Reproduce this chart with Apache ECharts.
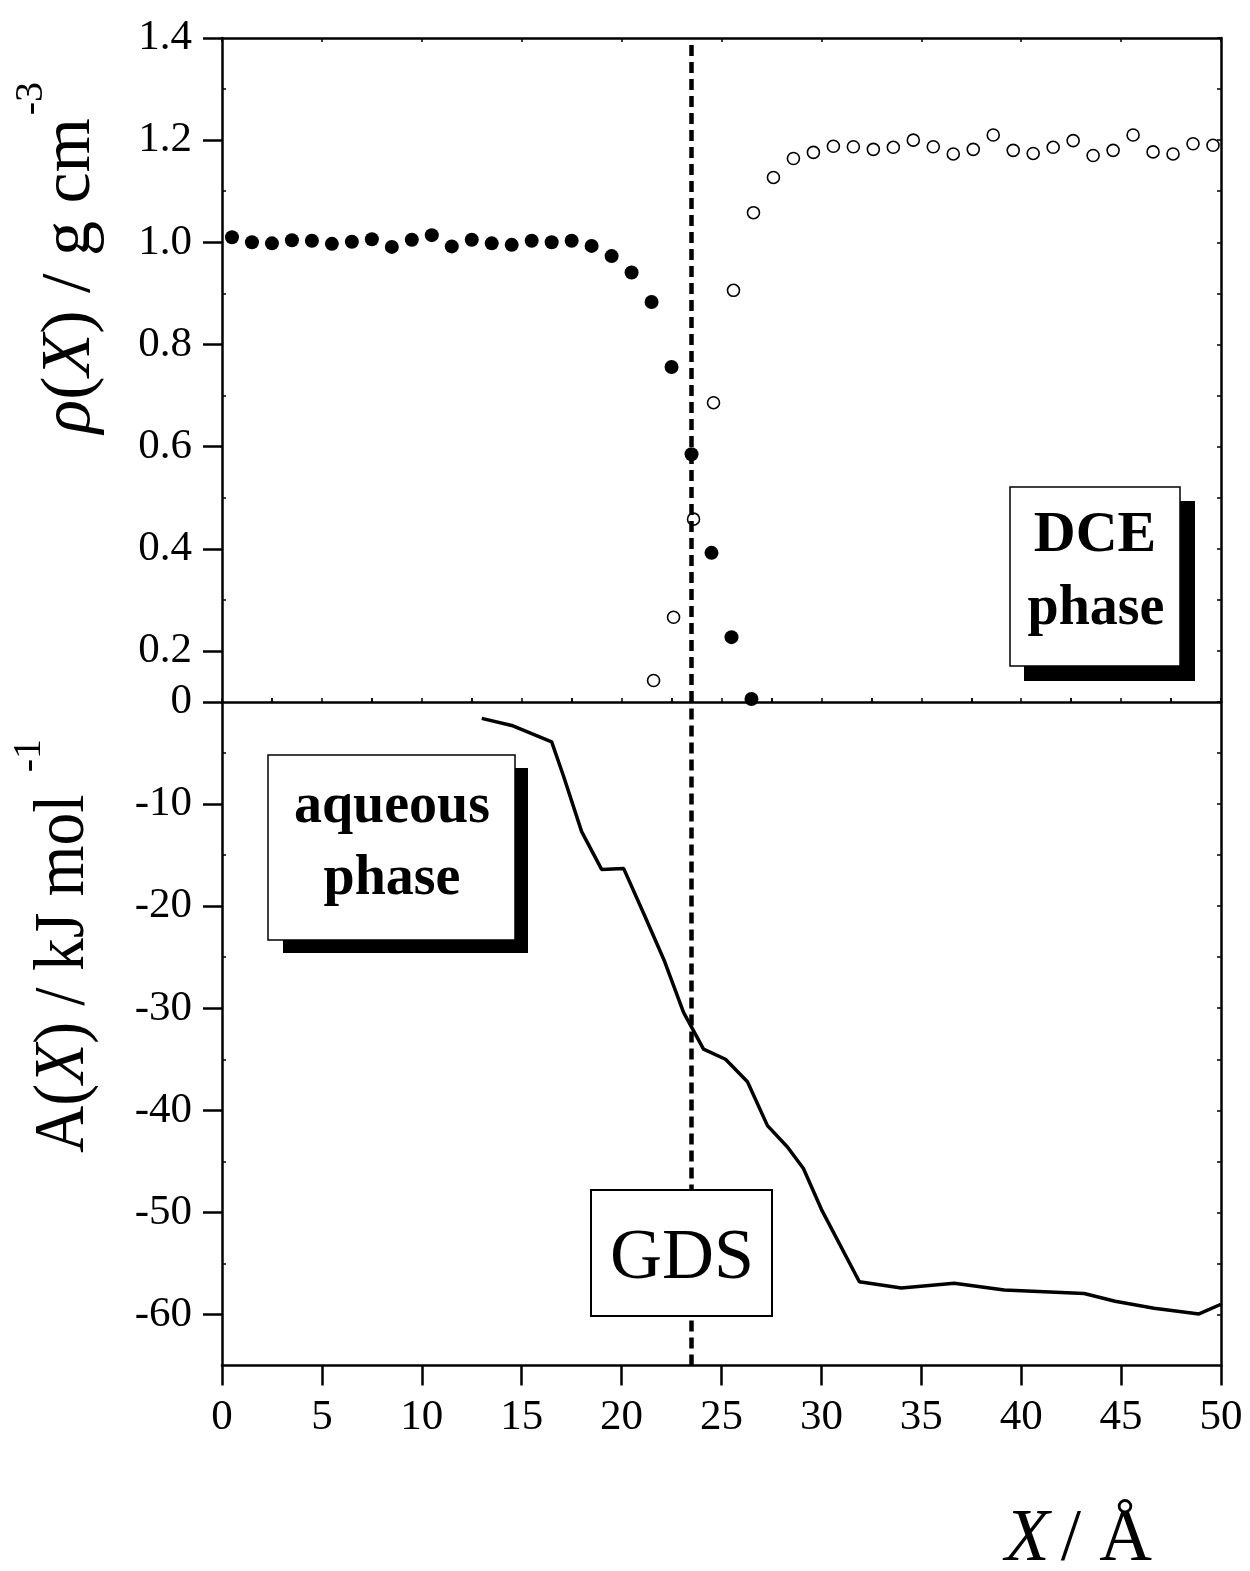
<!DOCTYPE html>
<html>
<head>
<meta charset="utf-8">
<script src="https://cdn.jsdelivr.net/npm/echarts@6.0.0/dist/echarts.min.js"></script>
<style>
  html, body { margin: 0; padding: 0; background: #fff; }
  #chart { width: 1250px; height: 1571px; }
</style>
</head>
<body>
<div id="chart"></div>
<script>
// density profiles, rho(X) / g cm^-3
var waterX = [0.5, 1.5, 2.5, 3.5, 4.5, 5.5, 6.5, 7.5, 8.5, 9.5, 10.5, 11.5, 12.5, 13.5,
              14.5, 15.5, 16.5, 17.5, 18.5, 19.5, 20.5, 21.5, 22.5, 23.5, 24.5, 25.5, 26.5];
var waterRho = [1.01, 1.0, 0.998, 1.004, 1.003, 0.997, 1.001, 1.006, 0.991, 1.005, 1.014, 0.992, 1.005, 0.998,
                0.995, 1.003, 1.0, 1.003, 0.993, 0.973, 0.941, 0.883, 0.756, 0.585, 0.392, 0.227, 0.106];
var dceX = [21.6, 22.6, 23.6, 24.6, 25.6, 26.6, 27.6, 28.6, 29.6, 30.6, 31.6, 32.6, 33.6, 34.6, 35.6,
            36.6, 37.6, 38.6, 39.6, 40.6, 41.6, 42.6, 43.6, 44.6, 45.6, 46.6, 47.6, 48.6, 49.6];
var dceRho = [0.142, 0.266, 0.458, 0.686, 0.906, 1.058, 1.127, 1.164, 1.176, 1.188, 1.187, 1.182, 1.186, 1.2, 1.187,
              1.173, 1.182, 1.21, 1.18, 1.174, 1.186, 1.199, 1.17, 1.18, 1.21, 1.177, 1.173, 1.193, 1.19];

// free energy profile, A(X) / kJ mol^-1
var energyX = [13.0, 14.5, 16.5, 17.1, 18.0, 19.0, 20.1, 21.1, 22.15, 23.1, 24.1, 25.2, 26.3,
               27.3, 28.3, 29.1, 30.0, 31.9, 34.0, 36.65, 39.15, 43.15, 44.7, 46.65, 48.9, 50.0];
var energyA = [-1.6, -2.3, -3.9, -7.3, -12.7, -16.4, -16.3, -20.7, -25.4, -30.4, -34.0, -35.0, -37.2,
               -41.5, -43.6, -45.7, -49.7, -56.8, -57.4, -56.95, -57.6, -57.95, -58.7, -59.4, -59.95, -59.0];

var gdsX = 23.5;

// ticks
var xTicks = [0, 5, 10, 15, 20, 25, 30, 35, 40, 45, 50];
var xMinorTicks = [2.5, 7.5, 12.5, 17.5, 22.5, 27.5, 32.5, 37.5, 42.5, 47.5];
var rhoTicks = [0.2, 0.4, 0.6, 0.8, 1.0, 1.2, 1.4];
var rhoMinorTicks = [0.3, 0.5, 0.7, 0.9, 1.1, 1.3];
var aTicks = [0, -10, -20, -30, -40, -50, -60];
var aMinorTicks = [-5, -15, -25, -35, -45, -55];

var serif = 'Liberation Serif';
var black = '#000';

function zip(xs, ys) {
    return xs.map(function (x, i) { return [x, ys[i]]; });
}

var frameLine = { show: true, onZero: false, lineStyle: { color: black, width: 2.5 } };
var noLine = { show: false };
function smallTicks(vals) {
    return { show: true, inside: true, length: 4, customValues: vals, lineStyle: { color: black, width: 1.5 } };
}
var gdsLine = {
    silent: true,
    symbol: ['none', 'none'],
    label: { show: false },
    lineStyle: { color: black, width: 4.5, type: [11, 6], opacity: 1 },
    data: [{ xAxis: gdsX }]
};
var italic = { fontStyle: 'italic', fontFamily: serif };

var chart = echarts.init(document.getElementById('chart'));
chart.setOption({
    animation: false,
    backgroundColor: '#fff',
    grid: [
        { left: 222, right: 29, top: 38, height: 664 },
        { left: 222, right: 29, top: 702, height: 663.5 }
    ],
    xAxis: [
        // middle line
        { gridIndex: 0, type: 'value', min: 0, max: 50, position: 'bottom',
          axisLine: frameLine, axisTick: smallTicks(xTicks.concat(xMinorTicks)),
          axisLabel: { show: false }, splitLine: { show: false } },
        // top frame
        { gridIndex: 0, type: 'value', min: 0, max: 50, position: 'top',
          axisLine: frameLine, axisTick: smallTicks(xTicks),
          axisLabel: { show: false }, splitLine: { show: false } },
        // bottom axis
        { gridIndex: 1, type: 'value', min: 0, max: 50, interval: 5, position: 'bottom',
          axisLine: frameLine,
          axisTick: { show: true, inside: false, length: 20, customValues: xTicks, lineStyle: { color: black, width: 2.5 } },
          axisLabel: { customValues: xTicks, margin: 31, color: black, fontFamily: serif, fontSize: 43 },
          splitLine: { show: false } },
        { gridIndex: 1, type: 'value', min: 0, max: 50, position: 'bottom',
          axisLine: noLine, axisTick: smallTicks(xMinorTicks),
          axisLabel: { show: false }, splitLine: { show: false } }
    ],
    yAxis: [
        { gridIndex: 0, type: 'value', min: 0.1, max: 1.4, position: 'left',
          axisLine: frameLine,
          axisTick: { show: true, inside: false, length: 19, customValues: rhoTicks, lineStyle: { color: black, width: 2.5 } },
          axisLabel: { customValues: rhoTicks, margin: 30, color: black, fontFamily: serif, fontSize: 43,
                       formatter: function (v) { return v.toFixed(1); } },
          splitLine: { show: false } },
        { gridIndex: 0, type: 'value', min: 0.1, max: 1.4, position: 'left',
          axisLine: noLine, axisTick: smallTicks(rhoMinorTicks),
          axisLabel: { show: false }, splitLine: { show: false } },
        { gridIndex: 0, type: 'value', min: 0.1, max: 1.4, position: 'right',
          axisLine: frameLine, axisTick: smallTicks(rhoTicks.concat(rhoMinorTicks)),
          axisLabel: { show: false }, splitLine: { show: false } },
        { gridIndex: 1, type: 'value', min: -65, max: 0, position: 'left',
          axisLine: frameLine,
          axisTick: { show: true, inside: false, length: 19, customValues: aTicks, lineStyle: { color: black, width: 2.5 } },
          axisLabel: { customValues: aTicks, margin: 30, color: black, fontFamily: serif, fontSize: 43 },
          splitLine: { show: false } },
        { gridIndex: 1, type: 'value', min: -65, max: 0, position: 'left',
          axisLine: noLine, axisTick: smallTicks(aMinorTicks),
          axisLabel: { show: false }, splitLine: { show: false } },
        { gridIndex: 1, type: 'value', min: -65, max: 0, position: 'right',
          axisLine: frameLine, axisTick: smallTicks(aTicks.concat(aMinorTicks)),
          axisLabel: { show: false }, splitLine: { show: false } }
    ],
    series: [
        { name: 'water', type: 'scatter', xAxisIndex: 0, yAxisIndex: 0,
          data: zip(waterX, waterRho), symbol: 'circle', symbolSize: 14,
          itemStyle: { color: black, opacity: 1 }, markLine: gdsLine, z: 3 },
        { name: 'DCE', type: 'scatter', xAxisIndex: 0, yAxisIndex: 0,
          data: zip(dceX, dceRho), symbol: 'circle', symbolSize: 12,
          itemStyle: { color: '#fff', borderColor: black, borderWidth: 1.6, opacity: 1 }, z: 3 },
        { name: 'A', type: 'line', xAxisIndex: 2, yAxisIndex: 3,
          data: zip(energyX, energyA), showSymbol: false, symbol: 'none',
          lineStyle: { color: black, width: 3.5 }, markLine: gdsLine }
    ],
    graphic: [
        // y axis titles
        { type: 'text', x: 71, y: 118, rotation: Math.PI / 2, z: 20,
          style: { text: '{i|ρ}({i|X}) / g cm', rich: { i: Object.assign({ fontSize: 70 }, italic) },
                   fontFamily: serif, fontSize: 70, fill: black, align: 'right', verticalAlign: 'middle' } },
        { type: 'text', x: 31, y: 82, rotation: Math.PI / 2, z: 20,
          style: { text: '-3', fontFamily: serif, fontSize: 40, fill: black, align: 'right', verticalAlign: 'middle' } },
        { type: 'text', x: 64, y: 1153, rotation: Math.PI / 2, scaleX: 0.91, z: 20,
          style: { text: 'A({i|X}) / kJ mol', rich: { i: Object.assign({ fontSize: 72 }, italic) },
                   fontFamily: serif, fontSize: 72, fill: black, align: 'left', verticalAlign: 'middle' } },
        { type: 'text', x: 29, y: 739, rotation: Math.PI / 2, z: 20,
          style: { text: '-1', fontFamily: serif, fontSize: 40, fill: black, align: 'right', verticalAlign: 'middle' } },
        // x axis title
        { type: 'text', x: 1005, y: 1541, z: 20,
          style: { text: '{i|X}{s| }/ Å', rich: { i: Object.assign({ fontSize: 73 }, italic), s: { fontSize: 40 } },
                   fontFamily: serif, fontSize: 73, fill: black, align: 'left', verticalAlign: 'middle' } },

        // DCE phase box
        { type: 'rect', z: 20, shape: { x: 1024, y: 501, width: 171, height: 180 }, style: { fill: black } },
        { type: 'rect', z: 21, shape: { x: 1010, y: 487, width: 170, height: 179 },
          style: { fill: '#fff', stroke: black, lineWidth: 1.5 } },
        { type: 'text', z: 22, x: 1095, y: 536,
          style: { text: 'DCE', fontFamily: serif, fontWeight: 'bold', fontSize: 58, fill: black, align: 'center', verticalAlign: 'middle' } },
        { type: 'text', z: 22, x: 1096, y: 610,
          style: { text: 'phase', fontFamily: serif, fontWeight: 'bold', fontSize: 56, fill: black, align: 'center', verticalAlign: 'middle' } },

        // aqueous phase box
        { type: 'rect', z: 20, shape: { x: 283, y: 768, width: 245, height: 185 }, style: { fill: black } },
        { type: 'rect', z: 21, shape: { x: 268, y: 755, width: 247, height: 185 },
          style: { fill: '#fff', stroke: black, lineWidth: 1.5 } },
        { type: 'text', z: 22, x: 392, y: 808,
          style: { text: 'aqueous', fontFamily: serif, fontWeight: 'bold', fontSize: 56, fill: black, align: 'center', verticalAlign: 'middle' } },
        { type: 'text', z: 22, x: 392, y: 880,
          style: { text: 'phase', fontFamily: serif, fontWeight: 'bold', fontSize: 56, fill: black, align: 'center', verticalAlign: 'middle' } },

        // GDS box
        { type: 'rect', z: 21, shape: { x: 591, y: 1190, width: 181, height: 126 },
          style: { fill: '#fff', stroke: black, lineWidth: 2 } },
        { type: 'text', z: 22, x: 682, y: 1259,
          style: { text: 'GDS', fontFamily: serif, fontSize: 72, fill: black, align: 'center', verticalAlign: 'middle' } }
    ]
});
</script>
</body>
</html>
